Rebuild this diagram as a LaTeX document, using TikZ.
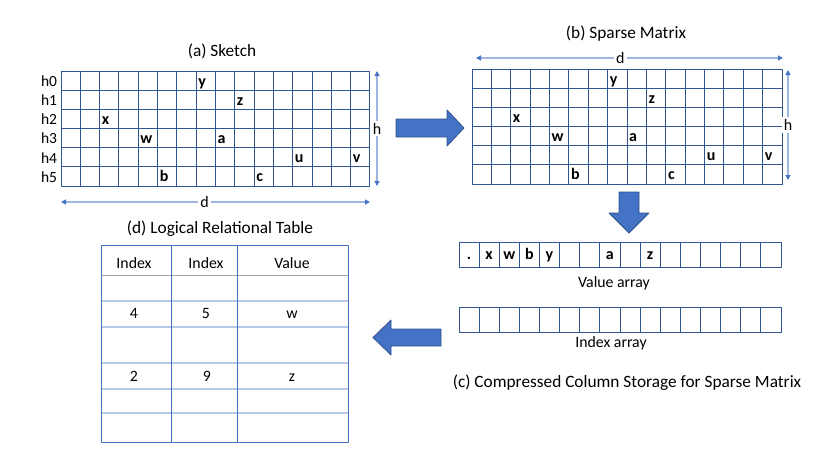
\documentclass[tikz,border=0pt]{standalone}
\usepackage{fontspec}
\setmainfont{Carlito}
\usetikzlibrary{arrows.meta,calc}
\definecolor{gridblue}{HTML}{2F5597}
\definecolor{fillblue}{HTML}{4472C4}
\definecolor{edgeblue}{HTML}{2F528F}
\definecolor{lightblue}{HTML}{B4C7E7}
\definecolor{dimblue}{HTML}{9DB5E0}

\begin{document}
\begin{tikzpicture}[
		x=1pt,
		y=-1pt,
		line join=round,
		cell/.style={draw=gridblue,line width=1pt},
		entry/.style={font=\fontsize{16}{16}\selectfont\bfseries,inner sep=0pt,anchor=base west},
		arrentry/.style={font=\fontsize{16}{16}\selectfont\bfseries,inner sep=0pt,anchor=base},
		rowlab/.style={font=\fontsize{15.5}{15.5}\selectfont,inner sep=0pt},
		paneltitle/.style={font=\fontsize{17.3}{17.3}\selectfont,inner sep=0pt},
		note/.style={font=\fontsize{15.8}{15.8}\selectfont,inner sep=0pt},
		cellnote/.style={note,anchor=base},
		dimline/.style={draw=dimblue,line width=1.2pt,{Triangle[length=5pt,width=5pt,color=fillblue]}-{Triangle[length=5pt,width=5pt,color=fillblue]}},
		dimlab/.style={font=\fontsize{16}{16}\selectfont,fill=white,inner sep=2pt},
		blockarrow/.style={fill=fillblue,draw=edgeblue,line width=0.8pt},
		tableout/.style={draw=fillblue,line width=0.8pt},
		tablerow/.style={draw=lightblue,line width=1.6pt}
	]
	\useasboundingbox (0,0) rectangle (830,467);
	
	% (a) Sketch
	\node[paneltitle] (titlea) at (222,51) {(a) Sketch};
	\foreach \c in {0,...,15}
	\foreach \r in {0,...,5}
	\draw[cell] (61+\c*19.31,71+\r*19.17) rectangle ++(19.31,19.17);
	\foreach \r in {0,...,5}
	\node[rowlab] (h\r) at (49,81+\r*19.17) {h\r};
	\foreach \lab/\c/\r in {y/7/0,z/9/1,x/2/2,w/4/3,a/8/3,u/12/4,v/15/4,b/5/5,c/10/5}
	\node[entry] (sk-\lab) at (63+\c*19.31,86+\r*19.17) {\lab};
	\coordinate (skdl) at (61,202);
	\coordinate (skdr) at (370,202);
	\coordinate (skht) at (377,71);
	\coordinate (skhb) at (377,186);
	\draw[dimline] (skdl) -- (skdr) node[dimlab,pos=0.465] (skd) {d};
	\draw[dimline] (skht) -- (skhb) node[dimlab,midway] (skh) {h};
	
	% (b) Sparse Matrix
	\node[paneltitle] (titleb) at (626,34) {(b) Sparse Matrix};
	\foreach \c in {0,...,15}
	\foreach \r in {0,...,5}
	\draw[cell] (472+\c*19.38,69+\r*19.17) rectangle ++(19.38,19.17);
	\foreach \lab/\c/\r in {y/7/0,z/9/1,x/2/2,w/4/3,a/8/3,u/12/4,v/15/4,b/5/5,c/10/5}
	\node[entry] (sm-\lab) at (474+\c*19.38,84+\r*19.17) {\lab};
	\coordinate (smdl) at (476,58);
	\coordinate (smdr) at (783,58);
	\coordinate (smht) at (788,70);
	\coordinate (smhb) at (788,180);
	\draw[dimline] (smdl) -- (smdr) node[dimlab,pos=0.47] (smd) {d};
	\draw[dimline] (smht) -- (smhb) node[dimlab,pos=0.5] (smh) {h};
	
	% Block arrows
	\draw[blockarrow] (396,119) -- (447,119) -- (447,110) -- (464,128) -- (447,146) -- (447,137) -- (396,137) -- cycle;
	\draw[blockarrow] (619,192) -- (639,192) -- (639,213) -- (649,213) -- (629,233) -- (609,213) -- (619,213) -- cycle;
	\draw[blockarrow] (441,329) -- (391,329) -- (391,320) -- (373,337.5) -- (391,355) -- (391,346) -- (441,346) -- cycle;
	
	% (c) Compressed Column Storage
	\foreach \c in {0,...,15}
	{
		\draw[cell] (459+\c*20.125,242) rectangle ++(20.125,25);
		\draw[cell] (459+\c*20.125,307) rectangle ++(20.125,25);
	}
	\foreach \lab/\c in {./0,x/1,w/2,b/3,y/4,a/7,z/9}
	\node[arrentry] (va-\c) at (469+\c*20.125,259) {\lab};
	\node[note] (valcap) at (614,283) {Value array};
	\node[note] (idxcap) at (611,343) {Index array};
	\node[paneltitle] (titlec) at (627,383) {(c) Compressed Column Storage for Sparse Matrix};
	
	% (d) Logical Relational Table
	\node[paneltitle] (titled) at (220,229) {(d) Logical Relational Table};
	\foreach \y in {301,327,363,389,413}
	\draw[tablerow] (101,\y) -- (348,\y);
	\draw[draw=gray!70,line width=0.6pt] (101,275) -- (348,275);
	\draw[tableout] (171,245) -- (171,442);
	\draw[tableout] (237,245) -- (237,442);
	\draw[tableout] (101,245) rectangle (348,442);
	\node[cellnote] (hd1) at (134,268.5) {Index};
	\node[cellnote] (hd2) at (206,268.5) {Index};
	\node[cellnote] (hd3) at (292,268.5) {Value};
	\node[cellnote] (r1c1) at (134,318.5) {4};
	\node[cellnote] (r1c2) at (206,318.5) {5};
	\node[cellnote] (r1c3) at (292,318.5) {w};
	\node[cellnote] (r2c1) at (134,381.5) {2};
	\node[cellnote] (r2c2) at (207,381.5) {9};
	\node[cellnote] (r2c3) at (292,381.5) {z};
	
\end{tikzpicture}
\end{document}
